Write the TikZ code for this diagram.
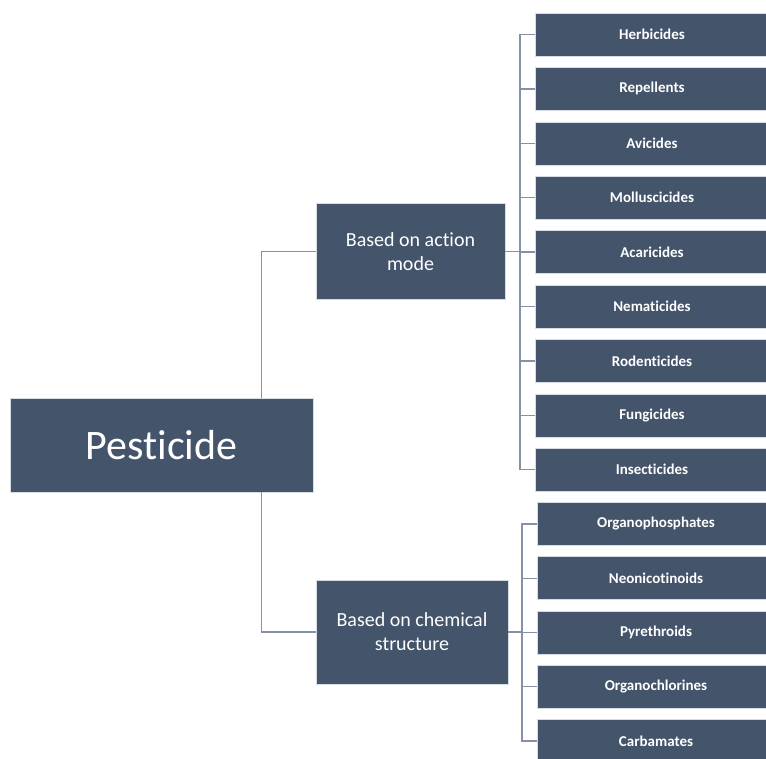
\documentclass[tikz,border=0pt]{standalone}
\usepackage{fontspec}
\setmainfont[Ligatures={NoCommon}]{Carlito}
\definecolor{boxfill}{HTML}{44546A}
\definecolor{boxedge}{HTML}{D6DCE4}
\definecolor{linecol}{HTML}{8592A6}
\begin{document}
\begin{tikzpicture}[x=1pt,y=-1pt,
  box/.style={rectangle,fill=boxfill,draw=boxedge,line width=0.6pt,inner sep=0pt,text=white,align=center},
  rootbox/.style={box,minimum width=303pt,minimum height=94pt,font=\fontsize{42}{50}\selectfont},
  midbox/.style={box,minimum height=96pt,font=\fontsize{20}{24}\selectfont},
  leafbox/.style={box,minimum height=43pt,font=\bfseries\fontsize{15}{18}\selectfont},
  conn/.style={draw=linecol,line width=1.3pt}]
\useasboundingbox (0,0) rectangle (766,758);
\clip (0,0) rectangle (766,758);
\node[rootbox] (pest) at (161.5,445) {Pesticide};
\node[midbox,minimum width=189pt] (act) at (410.5,251.5) {Based on action\\mode};
\node[midbox,minimum width=192pt,minimum height=104pt] (chem) at (412,632) {Based on chemical\\structure};
\foreach \n/\t [count=\i from 0] in {herb/Herbicides,rep/Repellents,avi/Avicides,mol/Molluscicides,aca/Acaricides,nem/Nematicides,rod/Rodenticides,fun/Fungicides,ins/Insecticides}{
  \node[leafbox,minimum width=234pt] (\n) at (652,34.5+54.4*\i) {\t};
}
\foreach \n/\t [count=\i from 0] in {orgp/Organophosphates,neo/Neonicotinoids,pyr/Pyrethroids,orgc/Organochlorines,carb/Carbamates}{
  \node[leafbox,minimum width=238pt] (\n) at (656,524+54.25*\i) {\t};
}
\coordinate (bus1) at (520,251.5);
\coordinate (bus2) at (522,632);
\draw[conn] ([xshift=-52pt]pest.north east) |- (act.west);
\draw[conn] ([xshift=-52pt]pest.south east) |- (chem.west);
\draw[conn] (act.east) -- (bus1);
\draw[conn] (chem.east) -- (bus2);
\foreach \n in {herb,rep,avi,mol,aca,nem,rod,fun,ins}{
  \draw[conn] (bus1) |- (\n.west);
}
\foreach \n in {orgp,neo,pyr,orgc,carb}{
  \draw[conn] (bus2) |- (\n.west);
}
\end{tikzpicture}
\end{document}
